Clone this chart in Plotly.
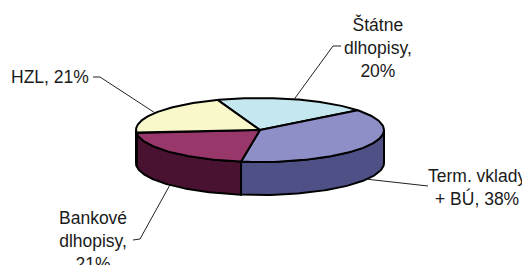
import numpy as np
import plotly.graph_objects as go

# ---- data ----
categories = ["Štátne dlhopisy", "Term. vklady + BÚ", "Bankové dlhopisy", "HZL"]
values = [20, 38, 21, 21]
label_lines = ["Štátne<br>dlhopisy", "Term. vklady<br>+ BÚ", "Bankové<br>dlhopisy", "HZL"]
label_seps = [",<br>", ", ", ",<br>", ", "]

# ---- style / layout ----
top_colors = ["#C5E7F0", "#8F8FC8", "#97376A", "#F8F8CA"]
side_colors = ["#5F7378", "#4F5186", "#4A1231", "#7C7C65"]
label_pos = [(378, 47), (477, 187), (93, 241), (50, 77)]
leader_elbow = [(333, 46), (423, 186), (140, 239), (100, 77)]
leader_end = [(341, 46), (428, 186), (133, 240), (93, 77)]

W, H = 530, 265
OFF = 8  # page body margin compensation
cx, cy, a, b, depth = 260, 130, 124, 32, 33
start = -20.0

total = float(sum(values))
angles = [start]
for v in values:
    angles.append(angles[-1] + v / total * 360.0)


def pts(thetas, dy=0.0):
    t = np.radians(np.asarray(thetas, dtype=float))
    return cx + a * np.sin(t), cy - b * np.cos(t) + dy


fig = go.Figure()

# side walls (front half only: 90..270 deg clockwise from top)
for i in range(len(values)):
    s, e = max(angles[i], 90.0), min(angles[i + 1], 270.0)
    if e <= s:
        continue
    th = np.linspace(s, e, 80)
    xt, yt = pts(th)
    xb, yb = pts(th[::-1], depth)
    xs = np.concatenate([xt, xb, xt[:1]])
    ys = np.concatenate([yt, yb, yt[:1]])
    fig.add_trace(go.Scatter(x=xs, y=ys, mode="lines", fill="toself",
                             fillcolor=side_colors[i],
                             line=dict(color="black", width=2),
                             hoverinfo="skip", showlegend=False))

# top faces
for i in range(len(values)):
    th = np.linspace(angles[i], angles[i + 1], 120)
    xa, ya = pts(th)
    xs = np.concatenate([[cx], xa, [cx]])
    ys = np.concatenate([[cy], ya, [cy]])
    fig.add_trace(go.Scatter(x=xs, y=ys, mode="lines", fill="toself",
                             fillcolor=top_colors[i],
                             line=dict(color="black", width=2),
                             name=categories[i],
                             hoverinfo="name", showlegend=False))

# leader lines and labels
for i in range(len(values)):
    mid = (angles[i] + angles[i + 1]) / 2.0
    m = mid % 360
    dy = depth if 90 < m < 270 else 0.0
    px, py = pts([mid], dy)
    fig.add_trace(go.Scatter(
        x=[px[0], leader_elbow[i][0], leader_end[i][0]],
        y=[py[0], leader_elbow[i][1], leader_end[i][1]],
        mode="lines", line=dict(color="#222222", width=1),
        hoverinfo="skip", showlegend=False))
    pct = f"{values[i] / total * 100:.0f}%"
    fig.add_annotation(x=label_pos[i][0], y=label_pos[i][1],
                       text=label_lines[i] + label_seps[i] + pct,
                       showarrow=False, xanchor="center", yanchor="middle",
                       align="center",
                       font=dict(family="Liberation Sans, Arial, sans-serif",
                                 size=17.5, color="#1a1a1a"))

fig.update_layout(
    width=W, height=H,
    margin=dict(l=0, r=0, t=0, b=0),
    paper_bgcolor="white", plot_bgcolor="white",
    xaxis=dict(range=[OFF, W + OFF], visible=False, fixedrange=True),
    yaxis=dict(range=[H + OFF, OFF], visible=False, fixedrange=True),
    showlegend=False,
)

fig.write_html("out.html", config={"displayModeBar": False})
